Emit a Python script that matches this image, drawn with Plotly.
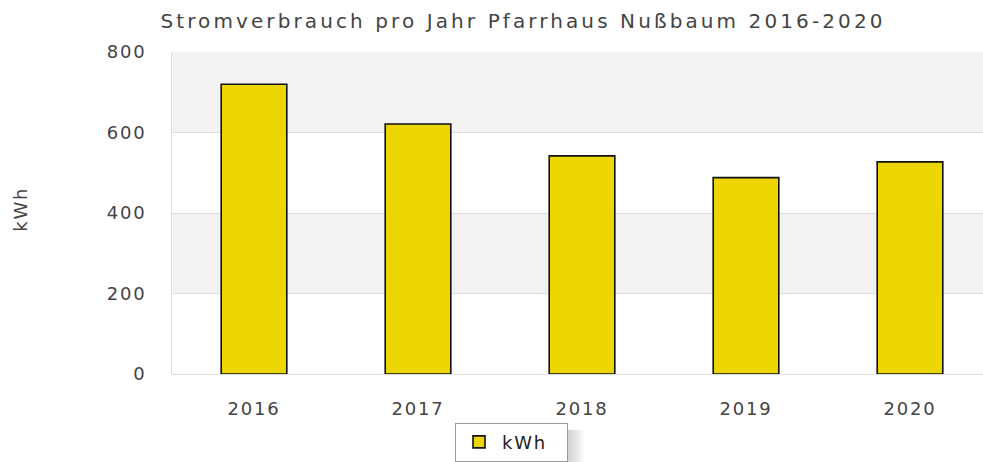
import plotly.graph_objects as go

years = ["2016", "2017", "2018", "2019", "2020"]
kwh = [720, 621, 542, 488, 527]
y_ticks = [0, 200, 400, 600, 800]
series_name = "kWh"
axis_title = "kWh"
title_text = "Stromverbrauch pro Jahr Pfarrhaus Nußbaum 2016-2020"

W, H = 983, 462
ML, MR, MT, MB = 172, 0, 52, 86
pw = W - ML - MR
ph = H - MT - MB
FS = 18

fig = go.Figure()
fig.add_trace(go.Bar(
    x=years, y=kwh, name=series_name,
    marker=dict(color="#EDD500", line=dict(color="#111111", width=1.6)),
    width=0.4, showlegend=True,
))

shapes = []
for lo, hi in [(600, 800), (200, 400)]:
    shapes.append(dict(type="rect", xref="paper", yref="y", x0=0, x1=1, y0=lo, y1=hi,
                       fillcolor="#f2f2f2", line=dict(width=0), layer="below"))

# legend drop shadow (gradient to the right of the legend box)
lx0 = (455 - ML) / pw
lx1 = (568 - ML) / pw
steps = 8
for i in range(steps):
    shapes.append(dict(type="rect", xref="paper", yref="paper",
                       x0=lx1 + (i * 2) / pw, x1=lx1 + ((i + 1) * 2) / pw,
                       y0=(376 - 470) / ph, y1=(376 - 432) / ph,
                       fillcolor="#777777", opacity=0.32 * (1 - i / steps),
                       line=dict(width=0), layer="below"))

fig.update_layout(
    width=W, height=H,
    margin=dict(l=ML, r=MR, t=MT, b=MB, pad=0),
    paper_bgcolor="white", plot_bgcolor="white",
    font=dict(family="DejaVu Sans", color="#444444", size=FS),
    title=dict(text=title_text, x=523 / W, xanchor="center", y=1 - 21 / H, yanchor="middle",
               font=dict(size=20, color="#444444", family="DejaVu Sans")),
    xaxis=dict(range=[-0.5, 4.5 - 9 / 164], showgrid=False, zeroline=False,
               showline=False, ticks="outside", ticklen=18, tickcolor="rgba(0,0,0,0)",
               tickfont=dict(size=FS, color="#444444")),
    yaxis=dict(range=[0, 800], tickvals=y_ticks, showgrid=True, gridcolor="#dddddd",
               gridwidth=1, zeroline=True, zerolinecolor="#dddddd", zerolinewidth=1,
               showline=True, linecolor="#dddddd", linewidth=1,
               ticks="outside", ticklen=21, tickcolor="rgba(0,0,0,0)",
               tickfont=dict(size=FS, color="#444444")),
    shapes=shapes,
    legend=dict(x=lx0, xanchor="left", y=(376 - 425) / ph, yanchor="top",
                orientation="h", bgcolor="white", bordercolor="#999999", borderwidth=1,
                font=dict(size=FS, color="#222222"), itemwidth=36,
                entrywidth=60, entrywidthmode="pixels"),
)
fig.add_annotation(text=axis_title, xref="paper", yref="paper", x=-(ML - 20) / pw, y=(376 - 210) / ph,
                   showarrow=False, textangle=-90, font=dict(size=FS, color="#444444"),
                   xanchor="center", yanchor="middle")

post = """
document.body.style.margin = '0';
document.body.style.overflow = 'hidden';
var gd = document.getElementById('{plot_id}');
function spacing() {
  gd.querySelectorAll('.gtitle').forEach(function(t){ t.style.letterSpacing = '3.1px'; });
  gd.querySelectorAll('.xtick text, .ytick text').forEach(function(t){ t.style.letterSpacing = '1.8px'; });
  gd.querySelectorAll('.legendtext').forEach(function(t){ t.style.letterSpacing = '1.8px'; });
  gd.querySelectorAll('.annotation-text').forEach(function(t){ t.style.letterSpacing = '1.8px'; });
}
spacing();
gd.on('plotly_afterplot', spacing);
"""
fig.write_html("out.html", post_script=post, config={"displayModeBar": False})
